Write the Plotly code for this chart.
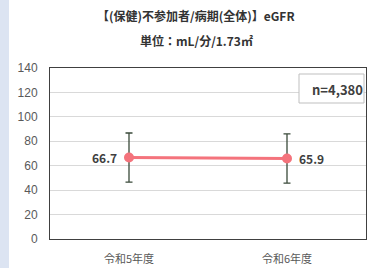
import plotly.graph_objects as go

categories = ["令和5年度", "令和6年度"]
means = [66.7, 65.9]
sd = [20.1, 20.2]
labels = ["66.7", "65.9"]
title_text = "【(保健)不参加者/病期(全体)】eGFR"
subtitle_text = "単位：mL/分/1.73㎡"
n_text = "n=4,380"
y_ticks = [0, 20, 40, 60, 80, 100, 120, 140]

FONT = "Noto Sans CJK JP"

fig = go.Figure()
fig.add_trace(go.Scatter(
    x=categories, y=means,
    mode="lines+markers",
    line=dict(color="#f4737c", width=3),
    marker=dict(color="#f4737c", size=10),
    error_y=dict(type="data", array=sd, visible=True, color="#3a4a3a", thickness=1.3, width=3.5),
    cliponaxis=False,
    hoverinfo="skip",
))

W, H = 374, 268
L, R, T, B = 50, 8, 68, 29
pw, ph = W - L - R, H - T - B

def px(x):
    return (x - L) / pw

def py(y):
    return (H - B - y) / ph

annotations = [
    dict(text=f"<b>{title_text}</b>", xref="paper", yref="paper",
         x=px(196), y=py(15), xanchor="center", yanchor="middle", showarrow=False,
         font=dict(family=FONT, size=12, color="#333333")),
    dict(text=f"<b>{subtitle_text}</b>", xref="paper", yref="paper",
         x=px(196), y=py(40), xanchor="center", yanchor="middle", showarrow=False,
         font=dict(family=FONT, size=12, color="#333333")),
    dict(text=f"<b>{n_text}</b>", xref="paper", yref="paper",
         x=px(337), y=py(89), xanchor="center", yanchor="middle", showarrow=False,
         font=dict(family=FONT, size=13, color="#404040")),
]
for i, (c, v, t) in enumerate(zip(categories, means, labels)):
    left = i == 0
    annotations.append(dict(
        text=f"<b>{t}</b>", x=c, y=v, xref="x", yref="y", showarrow=False,
        xanchor="right" if left else "left", yanchor="middle",
        xshift=-10 if left else 10,
        font=dict(family=FONT, size=12, color="#404040")))

fig.update_layout(
    width=W, height=H,
    margin=dict(l=L, r=R, t=T, b=B, autoexpand=False),
    paper_bgcolor="white", plot_bgcolor="white",
    showlegend=False,
    xaxis=dict(
        type="category", range=[-0.5, 1.5], automargin=False,
        showline=True, mirror=True, linecolor="#404040", linewidth=1,
        showgrid=False, ticks="",
        tickfont=dict(family=FONT, size=11, color="#595959"),
        ticklabelstandoff=10,
        fixedrange=True,
    ),
    yaxis=dict(
        range=[0, 140], tickvals=y_ticks, automargin=False,
        showline=True, mirror=True, linecolor="#404040", linewidth=1,
        showgrid=True, gridcolor="#d9d9d9", gridwidth=1,
        zeroline=False, ticks="",
        tickfont=dict(family="Liberation Sans", size=12, color="#595959"),
        ticklabelstandoff=9,
        fixedrange=True,
    ),
    shapes=[
        dict(type="rect", xref="paper", yref="paper",
             x0=px(0), x1=px(9), y0=py(H), y1=py(0),
             fillcolor="#dce4f2", line=dict(width=0), layer="below"),
        dict(type="rect", xref="paper", yref="paper",
             x0=px(299), x1=px(364), y0=py(103), y1=py(74),
             fillcolor="white", line=dict(color="#bfbfbf", width=1)),
    ],
    annotations=annotations,
)

fig.write_html("out.html", config={"displayModeBar": False},
               post_script="document.body.style.margin='0';document.body.style.overflow='hidden';")
